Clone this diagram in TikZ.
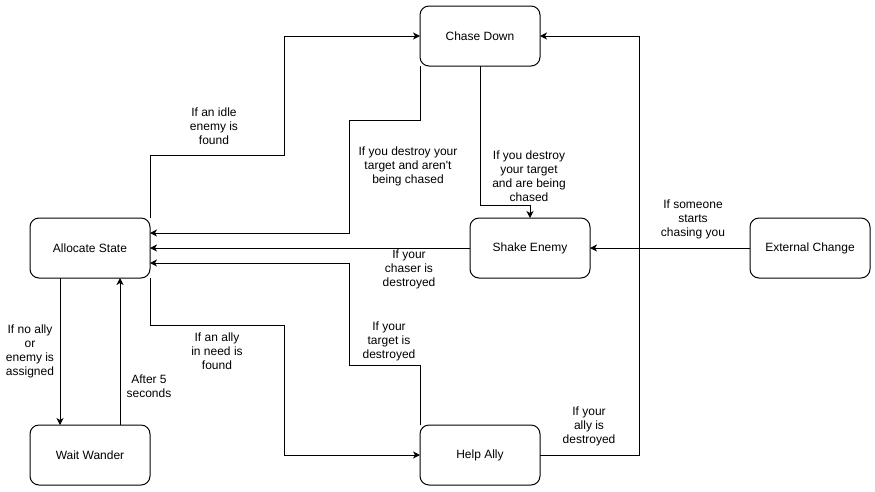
\documentclass[tikz,border=0pt]{standalone}
\usepackage{fontspec}
\setmainfont{Liberation Sans}
\usetikzlibrary{arrows.meta}
\begin{document}
\begin{tikzpicture}[x=1pt,y=-1pt,
  state/.style={draw,line width=1pt,rounded corners=9pt,minimum width=120pt,minimum height=60pt,inner sep=0pt,outer sep=0pt,font=\fontsize{12}{14}\selectfont},
  lbl/.style={align=center,inner sep=0pt,font=\fontsize{12}{14}\selectfont},
  arr/.style={line width=1pt,-{Stealth[length=7pt,width=7pt,inset=2pt]}}]
\useasboundingbox (0,0) rectangle (875,491);
\node[state] (chase) at (480,36) {Chase Down};
\node[state] (alloc) at (90,248) {Allocate State};
\node[state] (shake) at (530,248) {Shake Enemy};
\node[state] (ext) at (810,248) {External Change};
\node[state] (wait) at (90,455) {Wait Wander};
\node[state] (help) at (480,455) {Help Ally};

\draw[arr] (alloc.north east) -- (150,155) -- (284,155) -- (284,36) -- (chase.west);
\draw[arr] (chase.south west) -- (420,120) -- (349,120) -- (349,233) -- ([yshift=15pt]alloc.east);
\draw[arr] (chase.south) -- (480,205) -- (530,205) -- (shake.north);
\draw[arr] (shake.west) -- (alloc.east);
\draw[arr] (help.north west) -- (420,365) -- (349,365) -- (349,263) -- ([yshift=-15pt]alloc.east);
\draw[arr] (help.east) -- (639,455) -- (639,36) -- (chase.east);
\draw[arr] (ext.west) -- (shake.east);
\draw[arr] ([xshift=-30pt]alloc.south) -- ([xshift=-30pt]wait.north);
\draw[arr] ([xshift=30pt]wait.north) -- ([xshift=30pt]alloc.south);
\draw[arr] (alloc.south east) -- (150,325) -- (284,325) -- (284,455) -- (help.west);

\node[lbl] (l1) at (214,126) {If an idle\\enemy is\\found};
\node[lbl] (l2) at (408,166) {If you destroy your\\target and aren\textquotesingle t\\being chased};
\node[lbl] (l3) at (529,176) {If you destroy\\your target\\and are being\\chased};
\node[lbl] (l4) at (409,269) {If your\\chaser is\\destroyed};
\node[lbl] (l5) at (693,219) {If someone\\starts\\chasing you};
\node[lbl] (l6) at (389,341) {If your\\target is\\destroyed};
\node[lbl] (l7) at (589,426) {If your\\ally is\\destroyed};
\node[lbl] (l8) at (30,351) {If no ally\\or\\enemy is\\assigned};
\node[lbl] (l9) at (149,386) {After 5\\seconds};
\node[lbl] (l10) at (217,351) {If an ally\\in need is\\found};
\end{tikzpicture}
\end{document}
